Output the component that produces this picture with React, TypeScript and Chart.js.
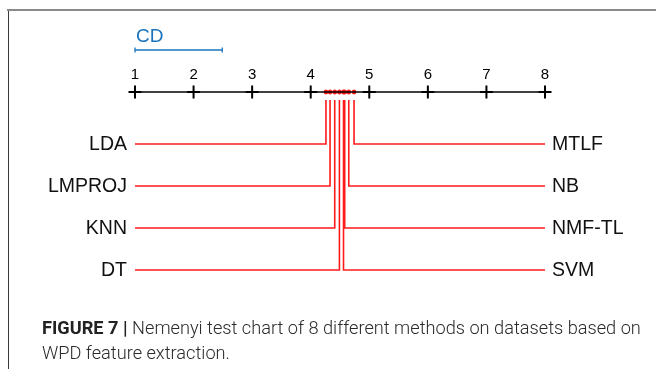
import { useEffect, useRef } from 'react';
import { Chart, registerables } from 'chart.js';

Chart.register(...registerables);

// ---- data ----
const LEFT_METHODS = ['LDA', 'LMPROJ', 'KNN', 'DT'];
const LEFT_RANKS = [4.26, 4.33, 4.41, 4.49];
const RIGHT_METHODS = ['MTLF', 'NB', 'NMF-TL', 'SVM'];
const RIGHT_RANKS = [4.74, 4.65, 4.58, 4.56];
const TICKS = [1, 2, 3, 4, 5, 6, 7, 8];
const TICK_LABELS = ['1', '2', '3', '4', '5', '6', '7', '8'];
const CD_VALUE = 1.49;
const CD_LABEL = 'CD';
const CAPTION_BOLD = 'FIGURE 7 |';
const CAPTION_LINE1 = ' Nemenyi test chart of 8 different methods on datasets based on';
const CAPTION_LINE2 = 'WPD feature extraction.';

// ---- layout (levels in y-scale units, axis at 0) ----
const AXIS_LEVEL = 0;
const CD_LEVEL = -1.0;
const CD_TEXT_LEVEL = -1.31;
const TICK_TEXT_LEVEL = -0.40;
const ROW_START = 1.238;
const LINE_START = 0.19;
const AXIS_EXT = 0.07;

const RED = '#ff1a1a';
const BLUE = '#1a74bd';
const FONT = '"Liberation Sans", Arial, sans-serif';

export default function App() {
  const ref = useRef<HTMLCanvasElement>(null);

  useEffect(() => {
    const canvas = ref.current!;
    const rowLevel = (i: number) => ROW_START + i;
    const minT = TICKS[0];
    const maxT = TICKS[TICKS.length - 1];

    const datasets: any[] = [];
    // axis line
    datasets.push({
      data: [{ x: minT - AXIS_EXT, y: AXIS_LEVEL }, { x: maxT + AXIS_EXT, y: AXIS_LEVEL }],
      borderColor: '#000', borderWidth: 1.5, pointRadius: 0, clip: false,
    });
    // tick crosses
    datasets.push({
      data: TICKS.map((t) => ({ x: t, y: AXIS_LEVEL })),
      showLine: false, pointStyle: 'cross', pointRadius: 6.5, borderWidth: 2,
      borderColor: '#000', pointBorderColor: '#000', clip: false,
    });
    // CD bar
    datasets.push({
      data: [{ x: minT, y: CD_LEVEL }, { x: minT + CD_VALUE, y: CD_LEVEL }],
      borderColor: BLUE, borderWidth: 1.3, pointStyle: 'line', pointRotation: 90,
      pointRadius: 2.5, pointBorderColor: BLUE, pointBorderWidth: 1.3, clip: false,
    });
    // method connectors
    LEFT_RANKS.forEach((r, i) => {
      datasets.push({
        data: [{ x: minT, y: rowLevel(i) }, { x: r, y: rowLevel(i) }, { x: r, y: LINE_START }],
        borderColor: RED, borderWidth: 1.6, pointRadius: 0, clip: false,
      });
    });
    RIGHT_RANKS.forEach((r, i) => {
      datasets.push({
        data: [{ x: maxT, y: rowLevel(i) }, { x: r, y: rowLevel(i) }, { x: r, y: LINE_START }],
        borderColor: RED, borderWidth: 1.6, pointRadius: 0, clip: false,
      });
    });
    // rank dots on axis
    datasets.push({
      data: [...LEFT_RANKS, ...RIGHT_RANKS].map((r) => ({ x: r, y: AXIS_LEVEL })),
      showLine: false, pointRadius: 2.2, pointBackgroundColor: RED, pointBorderColor: RED,
      pointBorderWidth: 0.5, clip: false,
    });

    const textPlugin = {
      id: 'texts',
      afterDatasetsDraw(chart: any) {
        const c = chart.ctx as CanvasRenderingContext2D;
        const xs = chart.scales.x;
        const ys = chart.scales.y;
        c.save();
        c.textBaseline = 'middle';
        // tick labels
        c.font = `15px ${FONT}`;
        c.fillStyle = '#000';
        c.textAlign = 'center';
        TICKS.forEach((t, i) => {
          c.fillText(TICK_LABELS[i], xs.getPixelForValue(t), ys.getPixelForValue(TICK_TEXT_LEVEL));
        });
        // CD label
        c.font = `19px ${FONT}`;
        c.fillStyle = BLUE;
        c.textAlign = 'left';
        c.fillText(CD_LABEL, xs.getPixelForValue(minT) + 1, ys.getPixelForValue(CD_TEXT_LEVEL));
        // method labels
        c.font = `19.5px ${FONT}`;
        c.fillStyle = '#111';
        c.textAlign = 'right';
        LEFT_METHODS.forEach((m, i) => {
          c.fillText(m, xs.getPixelForValue(minT) - 8, ys.getPixelForValue(rowLevel(i)) + 1);
        });
        c.textAlign = 'left';
        RIGHT_METHODS.forEach((m, i) => {
          c.fillText(m, xs.getPixelForValue(maxT) + 7, ys.getPixelForValue(rowLevel(i)) + 1);
        });
        c.restore();
      },
    };

    const chart = new Chart(canvas, {
      type: 'line',
      data: { datasets },
      options: {
        animation: false,
        responsive: false,
        devicePixelRatio: 1,
        layout: { padding: { left: 135, right: 111, top: 29, bottom: 67 } },
        elements: { line: { tension: 0 } },
        plugins: { legend: { display: false }, tooltip: { enabled: false } },
        scales: {
          x: { type: 'linear', min: minT, max: maxT, display: false },
          y: { type: 'linear', min: -1.5, max: 5, reverse: true, display: false },
        },
      },
      plugins: [textPlugin],
    });
    return () => chart.destroy();
  }, []);

  return (
    <div style={{ position: 'fixed', left: 0, top: 0, width: 656, height: 369, background: '#fff', overflow: 'hidden' }}>
      <div style={{ position: 'absolute', left: 7, top: 9, right: 0, height: 0, borderTop: '2px solid #8a8a8a' }} />
      <div style={{ position: 'absolute', left: 8, top: 11, bottom: 0, width: 0, borderLeft: '1px solid #3a3a3a' }} />
      <canvas ref={ref} width={656} height={369} style={{ position: 'absolute', left: 0, top: 0, width: 656, height: 369 }} />
      <div style={{ position: 'absolute', left: 42, top: 315, width: 614, fontFamily: 'Roboto, sans-serif', fontWeight: 300, fontSize: 18.2, lineHeight: '25px', color: '#2a2a2a', whiteSpace: 'nowrap' }}>
        <div><span style={{ fontWeight: 700, color: '#222' }}>{CAPTION_BOLD}</span>{CAPTION_LINE1}</div>
        <div>{CAPTION_LINE2}</div>
      </div>
    </div>
  );
}
